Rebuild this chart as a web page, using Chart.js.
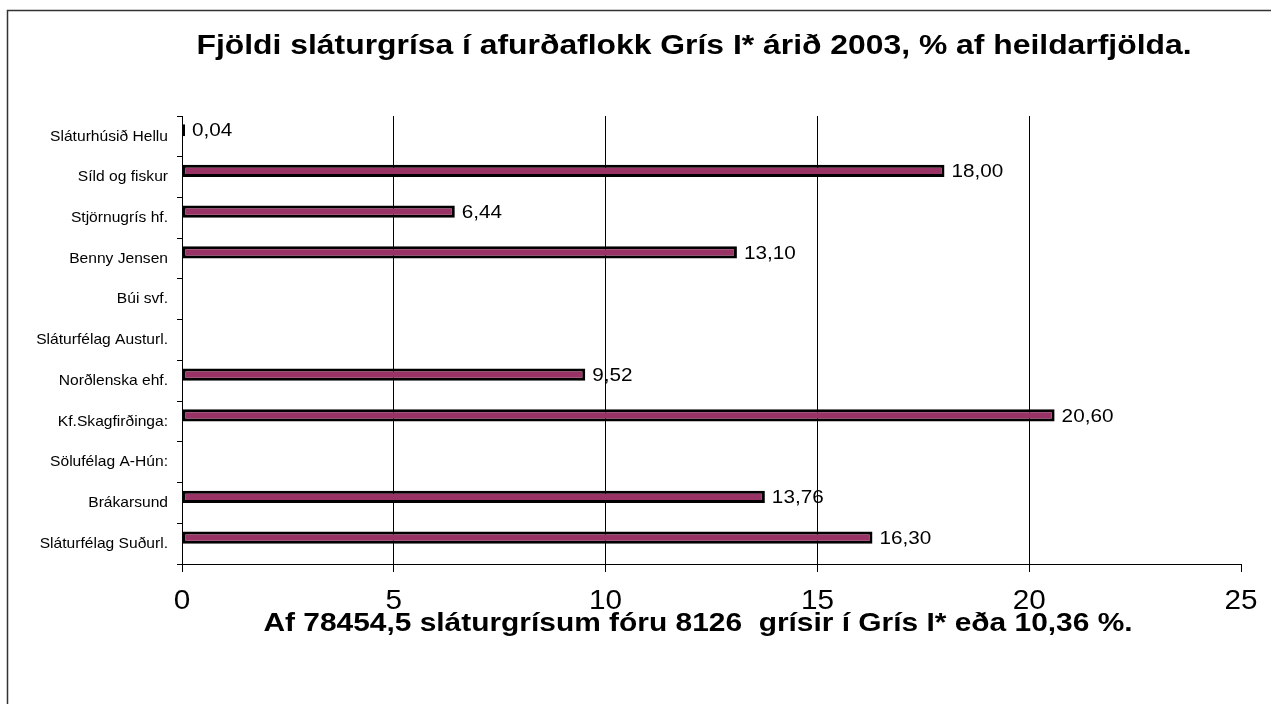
<!DOCTYPE html>
<html>
<head>
<meta charset="utf-8">
<script src="https://cdn.jsdelivr.net/npm/chart.js@4/dist/chart.umd.min.js"></script>
<style>
  html, body { margin: 0; padding: 0; background: #fff; }
  #wrap { width: 1271px; height: 704px; }
</style>
</head>
<body>
<div id="wrap"><canvas id="chart" width="1271" height="704"></canvas></div>
<script>
const categories = [
    'Sláturhúsið Hellu',
    'Síld og fiskur',
    'Stjörnugrís hf.',
    'Benny Jensen',
    'Búi svf.',
    'Sláturfélag Austurl.',
    'Norðlenska ehf.',
    'Kf.Skagfirðinga:',
    'Sölufélag A-Hún:',
    'Brákarsund',
    'Sláturfélag Suðurl.'
];
const shares = [0.04, 18.00, 6.44, 13.10, null, null, 9.52, 20.60, null, 13.76, 16.30];
// empty second series: in the original the bars sit a little above the row middle
const spacer = categories.map(() => null);
const xTicks = [0, 5, 10, 15, 20, 25];

const titleText = 'Fjöldi sláturgrísa í afurðaflokk Grís I* árið 2003, % af heildarfjölda.';
const footText = 'Af 78454,5 sláturgrísum fóru 8126  grísir í Grís I* eða 10,36 %.';

const FONT = 'Arial, "Liberation Sans", sans-serif';

// the original text is a bit wider than Arial, so stretch it sideways
function wideText(ctx, text, x, y, align, sx) {
    ctx.save();
    ctx.translate(x, y);
    ctx.scale(sx, 1);
    ctx.textAlign = align;
    ctx.fillText(text, 0, 0);
    ctx.restore();
}

const decor = {
    id: 'decor',
    beforeDraw(chart) {
        const ctx = chart.ctx;
        ctx.save();
        ctx.strokeStyle = '#333';
        ctx.lineWidth = 1.5;
        ctx.beginPath();
        ctx.moveTo(7.5, 704);
        ctx.lineTo(7.5, 10.5);
        ctx.lineTo(1271, 10.5);
        ctx.stroke();
        ctx.restore();
    },
    afterDatasetsDraw(chart) {
        const ctx = chart.ctx;
        const area = chart.chartArea;
        const xs = chart.scales.x;
        const ys = chart.scales.y;
        ctx.save();
        ctx.fillStyle = '#000';
        ctx.textBaseline = 'middle';

        ctx.font = 'bold 27px ' + FONT;
        wideText(ctx, titleText, 694, 47, 'center', 1.18);
        ctx.font = 'bold 26px ' + FONT;
        wideText(ctx, footText, 698, area.bottom + 60, 'center', 1.15);

        ctx.font = '27px ' + FONT;
        xTicks.forEach(v => {
            wideText(ctx, String(v), xs.getPixelForValue(v), area.bottom + 38, 'center', 1.1);
        });

        ctx.font = '15px ' + FONT;
        categories.forEach((c, i) => {
            wideText(ctx, c, area.left - 14, ys.getPixelForValue(i), 'right', 1.04);
        });

        ctx.font = '19px ' + FONT;
        const meta = chart.getDatasetMeta(0);
        meta.data.forEach((bar, i) => {
            const v = shares[i];
            if (v === null) return;
            wideText(ctx, v.toFixed(2).replace('.', ','), Math.max(bar.x, area.left + 3) + 7, bar.y + 1, 'left', 1.09);
        });
        ctx.restore();
    }
};

const ctx = document.getElementById('chart').getContext('2d');
const chart = new Chart(ctx, {
    type: 'bar',
    data: {
        labels: categories,
        datasets: [{
            data: shares,
            backgroundColor: '#993366',
            borderColor: '#000',
            borderWidth: 3,
            borderSkipped: false,
            minBarLength: 3,
            barPercentage: 1,
            categoryPercentage: 0.6
        }, {
            data: spacer,
            backgroundColor: 'rgba(0,0,0,0)',
            barPercentage: 1,
            categoryPercentage: 0.6
        }]
    },
    options: {
        indexAxis: 'y',
        responsive: false,
        animation: false,
        layout: { padding: { top: 116, right: 30, left: 0, bottom: 0 } },
        plugins: {
            legend: { display: false },
            tooltip: { enabled: false },
            title: { display: false }
        },
        scales: {
            x: {
                type: 'linear',
                min: 0,
                max: 25,
                afterBuildTicks: (scale) => { scale.ticks = xTicks.map(v => ({ value: v })); },
                afterFit: (scale) => { scale.height = 140; },
                ticks: { display: false },
                grid: {
                    color: (c) => (c.tick && (c.tick.value === 0 || c.tick.value === 25)) ? 'rgba(0,0,0,0)' : '#000',
                    tickColor: '#000',
                    tickLength: 8,
                    lineWidth: 1
                },
                border: { color: '#000', width: 1 }
            },
            y: {
                afterFit: (scale) => { scale.width = 182; },
                ticks: { display: false, autoSkip: false },
                grid: {
                    drawOnChartArea: false,
                    color: '#000',
                    tickColor: '#000',
                    tickLength: 5
                },
                border: { color: '#000', width: 1 }
            }
        }
    },
    plugins: [decor]
});
</script>
</body>
</html>
